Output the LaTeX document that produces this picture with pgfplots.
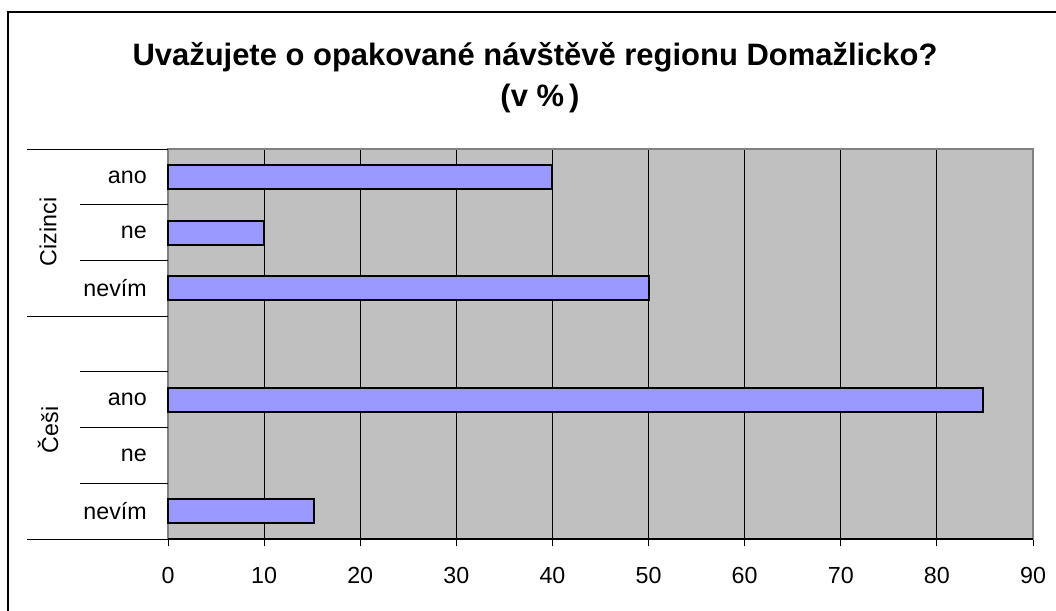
\documentclass[border=0pt]{standalone}
\usepackage{pgfplots}
\pgfplotsset{compat=1.18}
\usepackage{fontspec}
\setmainfont{Liberation Sans}
\definecolor{plotbg}{HTML}{C0C0C0}
\definecolor{barfill}{HTML}{9999FF}
\definecolor{framegray}{HTML}{808080}
\begin{document}
\begin{tikzpicture}[x=0.75bp,y=0.75bp]
\useasboundingbox (0,0) rectangle (1056,610);
\draw[line width=1.6bp] (8,-20) -- (8,598) -- (1080,598);
\node[anchor=base, inner sep=0pt, font=\fontsize{23.3}{28}\selectfont\bfseries] at (535,544) {Uvažujete o opakované návštěvě regionu Domažlicko?};
\node[anchor=base, inner sep=0pt, font=\fontsize{23.3}{28}\selectfont\bfseries] at (540,503) {(v \%\,)};
\node[rotate=90, inner sep=0pt, font=\fontsize{17.5}{20}\selectfont] at (48,378) {Cizinci};
\node[rotate=90, inner sep=0pt, font=\fontsize{17.5}{20}\selectfont] at (48,180) {Češi};
\begin{axis}[
  at={(126bp,53.25bp)}, anchor=south west,
  scale only axis, width=648.75bp, height=292.5bp,
  xmin=0, xmax=90, ymin=0.5, ymax=7.5,
  xbar, bar width=18bp,
  clip=false,
  axis background/.style={fill=plotbg},
  axis line style={draw=framegray, line width=1bp},
  xtick={0,10,...,90},
  ytick={1,...,7},
  yticklabels={nevím,ne,ano,,nevím,ne,ano},
  xmajorgrids, grid style={black, line width=0.75bp},
  tick align=outside,
  xtick pos=bottom,
  major tick length=5.25bp,
  xtick style={black, line width=0.75bp},
  ytick style={draw=none},
  ticklabel style={font=\fontsize{17.5}{20}\selectfont, inner sep=0pt},
  xticklabel shift=15.75bp,
  yticklabel shift=10.5bp,
  /pgf/number format/assume math mode=true,
]
\addplot[fill=barfill, draw=black, line width=1.5bp] coordinates {(15.2,1) (84.8,3) (50,5) (10,6) (40,7)};
\draw[black, line width=1bp] (rel axis cs:0,0) -- (rel axis cs:1,0);
\pgfplotsinvokeforeach{7.5,4.5,0.5}{\draw[black, line width=0.75bp] (axis cs:0,#1) -- ++(-105.75bp,0bp);}
\pgfplotsinvokeforeach{6.5,5.5,3.5,2.5,1.5}{\draw[black, line width=0.75bp] (axis cs:0,#1) -- ++(-66bp,0bp);}
\end{axis}
\end{tikzpicture}
\end{document}
